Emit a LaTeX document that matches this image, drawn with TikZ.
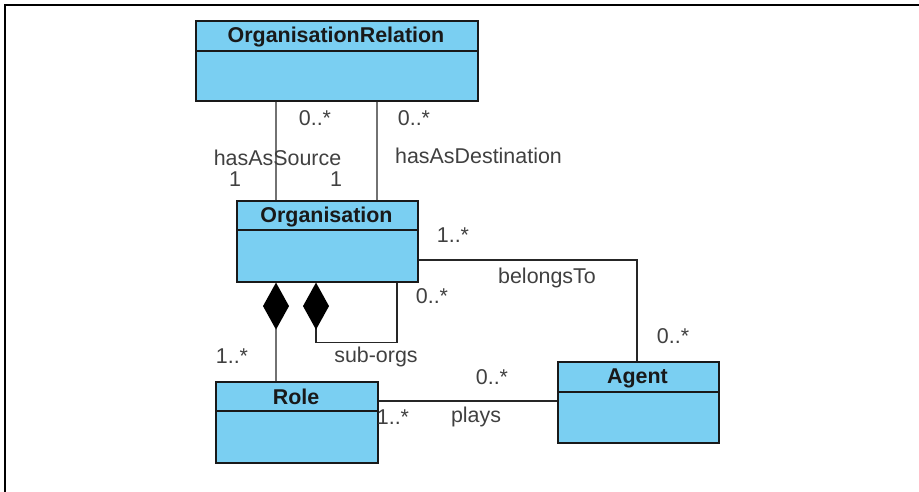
\documentclass[tikz,border=0pt]{standalone}
\usepackage{fontspec}
\setmainfont{Liberation Sans}
\usetikzlibrary{arrows.meta}
\definecolor{clsfill}{RGB}{122,207,242}
\definecolor{lbl}{RGB}{64,64,64}
\begin{document}
\begin{tikzpicture}[x=1bp,y=-1bp,
  cls/.style={draw=black!90, line width=1.6bp, fill=clsfill, anchor=north west, inner sep=0, rectangle},
  ttl/.style={anchor=base, inner sep=0, font=\fontsize{21.5}{25}\selectfont\bfseries, text=black!90},
  lab/.style={anchor=base, inner sep=0, font=\fontsize{21.5}{25}\selectfont, text=lbl},
  conn/.style={draw=black!85, line width=1.3bp},
  div/.style={draw=black!90, line width=1.6bp},
  comp/.style={{Diamond[length=47bp,width=26bp,color=black,fill=black]}-}
]
\useasboundingbox (0,0) rectangle (919,492);
\draw[line width=2.5bp] (5,492) -- (5,5) -- (919,5);

% classes
\node[cls, minimum width=282bp, minimum height=80bp] (orgrel) at (195,20) {};
\draw[div] ([yshift=-31bp]orgrel.north west) -- ([yshift=-31bp]orgrel.north east);
\node[ttl] (orgrelT) at (336,43) {OrganisationRelation};

\node[cls, minimum width=181bp, minimum height=81bp] (org) at (236,200) {};
\draw[div] ([yshift=-30bp]org.north west) -- ([yshift=-30bp]org.north east);
\node[ttl] (orgT) at (326.5,223) {Organisation};

\node[cls, minimum width=162bp, minimum height=81bp] (role) at (215,381) {};
\draw[div] ([yshift=-30bp]role.north west) -- ([yshift=-30bp]role.north east);
\node[ttl] (roleT) at (296,404) {Role};

\node[cls, minimum width=161bp, minimum height=81bp] (agent) at (557,361) {};
\draw[div] ([yshift=-31bp]agent.north west) -- ([yshift=-31bp]agent.north east);
\node[ttl] (agentT) at (637.5,383) {Agent};

% connectors
\draw[conn] ([xshift=81bp]orgrel.south west) -- ([xshift=40bp]org.north west);
\draw[conn] ([xshift=182bp]orgrel.south west) -- ([xshift=141bp]org.north west);
\draw[conn] ([yshift=-60bp]org.north east) -| ([xshift=80bp]agent.north west);
\draw[conn, comp] ([xshift=40bp]org.south west) -- ([xshift=61bp]role.north west);
\draw[conn, comp] ([xshift=80bp]org.south west) -- ++(0,60) -| ([xshift=161bp]org.south west);
\coordinate (p1) at ([yshift=-20bp]role.north east);
\draw[conn] (p1) -- (p1 -| agent.west);

% labels
\node[lab] (l1) at (315,126) {0..*};
\node[lab] (l2) at (277.5,166) {hasAsSource};
\node[lab] (l3) at (235,187) {1};
\node[lab] (l4) at (336,187) {1};
\node[lab] (l5) at (414,126) {0..*};
\node[lab] (l6) at (478.5,164) {hasAsDestination};
\node[lab] (l7) at (453,243) {1..*};
\node[lab] (l8) at (547,284) {belongsTo};
\node[lab] (l9) at (673,344) {0..*};
\node[lab] (l10) at (432,304) {0..*};
\node[lab] (l11) at (232,364) {1..*};
\node[lab] (l12) at (376,363) {sub-orgs};
\node[lab] (l13) at (393,424) {1..*};
\node[lab] (l14) at (476,422) {plays};
\node[lab] (l15) at (492,384) {0..*};
\end{tikzpicture}
\end{document}
